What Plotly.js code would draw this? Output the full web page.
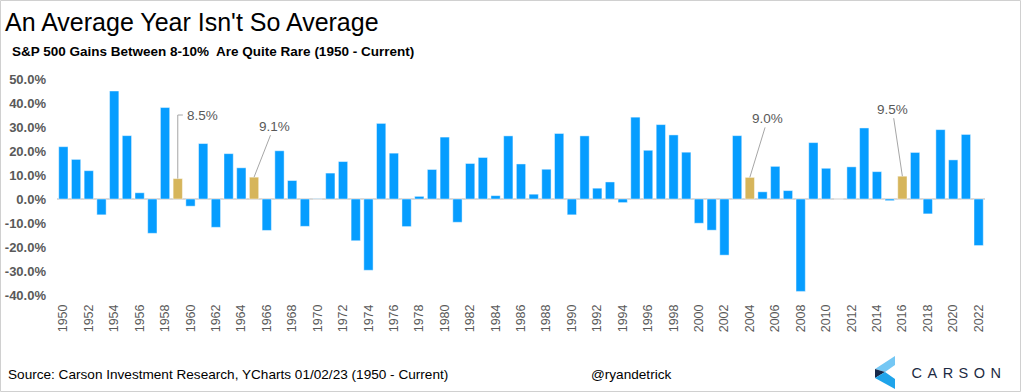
<!DOCTYPE html>
<html>
<head>
<meta charset="utf-8">
<script src="https://cdn.plot.ly/plotly-3.0.1.min.js"></script>
<style>
  html, body { margin: 0; padding: 0; background: #ffffff; }
  #chart { width: 1021px; height: 392px; }
</style>
</head>
<body>
<div id="chart"></div>
<script>
// ---- Data (S&P 500 calendar-year price returns, %) ----
const years = [1950,1951,1952,1953,1954,1955,1956,1957,1958,1959,
               1960,1961,1962,1963,1964,1965,1966,1967,1968,1969,
               1970,1971,1972,1973,1974,1975,1976,1977,1978,1979,
               1980,1981,1982,1983,1984,1985,1986,1987,1988,1989,
               1990,1991,1992,1993,1994,1995,1996,1997,1998,1999,
               2000,2001,2002,2003,2004,2005,2006,2007,2008,2009,
               2010,2011,2012,2013,2014,2015,2016,2017,2018,2019,
               2020,2021,2022];
const returnsPct = [21.8,16.5,11.8,-6.6,45.0,26.4,2.6,-14.3,38.1,8.5,
                    -3.0,23.1,-11.8,18.9,13.0,9.1,-13.1,20.1,7.7,-11.4,
                    0.1,10.8,15.6,-17.4,-29.7,31.5,19.1,-11.5,1.1,12.3,
                    25.8,-9.7,14.8,17.3,1.4,26.3,14.6,2.0,12.4,27.3,
                    -6.6,26.3,4.5,7.1,-1.5,34.1,20.3,31.0,26.7,19.5,
                    -10.1,-13.0,-23.4,26.4,9.0,3.0,13.6,3.5,-38.5,23.5,
                    12.8,0.0,13.4,29.6,11.4,-0.7,9.5,19.4,-6.2,28.9,
                    16.3,26.9,-19.4];
const highlightYears = [1959, 1965, 2004, 2016];
const highlightLabels = ["8.5%", "9.1%", "9.0%", "9.5%"];
const yTickVals = [50,40,30,20,10,0,-10,-20,-30,-40];
const yTickText = ["50.0%","40.0%","30.0%","20.0%","10.0%","0.0%","-10.0%","-20.0%","-30.0%","-40.0%"];
const xTickVals = years.filter(y => y % 2 === 0);

const titleText = "An Average Year Isn't So Average";
const subtitleText = "S&P 500 Gains Between 8-10%  Are Quite Rare (1950 - Current)";
const sourceText = "Source: Carson Investment Research, YCharts 01/02/23 (1950 - Current)";
const handleText = "@ryandetrick";
const brandText = "CARSON";

// ---- Styling ----
const W = 1021, H = 392;
const M = {l: 57, r: 36, t: 79, b: 97};
const PW = W - M.l - M.r, PH = H - M.t - M.b;
const px = x => (x - M.l) / PW;          // pixel -> paper x
const py = y => (H - M.b - y) / PH;      // pixel -> paper y
const FONT = "Liberation Sans, Arial, sans-serif";
const BLUE = "#069DFF", GOLD = "#D6B55B", GRAY = "#595959";

const colors = years.map(y => highlightYears.includes(y) ? GOLD : BLUE);

const trace = {
  type: "bar",
  x: years,
  y: returnsPct,
  marker: { color: colors, line: { color: "rgba(255,255,255,0.45)", width: 1 } },
  hoverinfo: "x+y"
};

// annotation offsets (pixels) for highlight labels
const labelOffsets = {1965: [20, -51], 2004: [18, -59], 2016: [-10, -67]};
const annotations = [];
const shapes = [];
highlightYears.forEach((yr, i) => {
  const v = returnsPct[years.indexOf(yr)];
  if (labelOffsets[yr]) {
    annotations.push({
      x: yr, y: v, xref: "x", yref: "y",
      text: highlightLabels[i], showarrow: true, arrowhead: 0, arrowwidth: 1,
      arrowcolor: "#a6a6a6", ax: labelOffsets[yr][0], ay: labelOffsets[yr][1],
      standoff: 0, font: { family: FONT, size: 13.5, color: GRAY }
    });
  } else {
    // elbow leader line for first label
    const topY = 35;
    shapes.push({
      type: "path", xref: "x", yref: "y",
      path: `M ${yr} ${v} L ${yr} ${topY} L ${yr + 0.4} ${topY}`,
      line: { color: "#a6a6a6", width: 1 }
    });
    annotations.push({
      x: yr + 0.6, y: topY, xref: "x", yref: "y", xanchor: "left", yanchor: "middle",
      text: highlightLabels[i], showarrow: false,
      font: { family: FONT, size: 13.5, color: GRAY }
    });
  }
});

// titles and footer
annotations.push(
  { xref: "paper", yref: "paper", x: px(3), y: py(22), xanchor: "left", yanchor: "middle",
    text: titleText, showarrow: false, font: { family: FONT, size: 25, color: "#000000" } },
  { xref: "paper", yref: "paper", x: px(10), y: py(51), xanchor: "left", yanchor: "middle",
    text: "<b>" + subtitleText + "</b>", showarrow: false, font: { family: FONT, size: 13.5, color: "#000000" } },
  { xref: "paper", yref: "paper", x: px(6), y: py(374), xanchor: "left", yanchor: "middle",
    text: sourceText, showarrow: false, font: { family: FONT, size: 13.6, color: "#000000" } },
  { xref: "paper", yref: "paper", x: px(631), y: py(374), xanchor: "center", yanchor: "middle",
    text: handleText, showarrow: false, font: { family: FONT, size: 13.6, color: "#000000" } },
  { xref: "paper", yref: "paper", x: px(926), y: py(373), xanchor: "left", yanchor: "middle",
    text: brandText, showarrow: false, font: { family: FONT, size: 14.5, color: "#1c2a43" } }
);

// logo chevron + border
const poly = pts => "M " + pts.map(p => px(p[0]) + " " + py(p[1])).join(" L ") + " Z";
shapes.push(
  { type: "path", xref: "paper", yref: "paper", path: poly([[895,356],[895,365],[885,372],[875,369]]),
    fillcolor: "#74C7F4", line: { width: 0 } },
  { type: "path", xref: "paper", yref: "paper", path: poly([[875,369],[885,372],[875,378]]),
    fillcolor: "#17294A", line: { width: 0 } },
  { type: "path", xref: "paper", yref: "paper", path: poly([[875,378],[885,372],[895,379],[895,389]]),
    fillcolor: "#1FA4EA", line: { width: 0 } },
  { type: "rect", xref: "paper", yref: "paper", x0: px(0.5), x1: px(W - 0.5), y0: py(0.5), y1: py(H - 0.5),
    line: { color: "#d0d0d0", width: 1 }, fillcolor: "rgba(0,0,0,0)" }
);

const layout = {
  width: W, height: H,
  margin: M,
  paper_bgcolor: "#ffffff", plot_bgcolor: "#ffffff",
  showlegend: false,
  bargap: 0.27,
  font: { family: FONT, color: GRAY },
  xaxis: {
    range: [years[0] - 0.5, years[years.length - 1] + 0.5],
    tickmode: "array", tickvals: xTickVals, ticktext: xTickVals.map(String),
    tickangle: -90, ticks: "", showgrid: false, zeroline: false, showline: false,
    tickfont: { family: FONT, size: 12.5, color: GRAY }, ticklabelstandoff: 6
  },
  yaxis: {
    range: [-40, 50],
    tickmode: "array", tickvals: yTickVals, ticktext: yTickText.map(t => "<b>" + t + "</b>"),
    ticks: "", showgrid: false, showline: false,
    zeroline: true, zerolinecolor: "#d9d9d9", zerolinewidth: 1.5,
    tickfont: { family: FONT, size: 13, color: GRAY }, ticklabelstandoff: 10
  },
  annotations: annotations,
  shapes: shapes
};

Plotly.newPlot("chart", [trace], layout, { displayModeBar: false, staticPlot: true }).then(() => {
  document.querySelectorAll("#chart .annotation-text").forEach(el => {
    if (el.textContent === brandText) el.style.letterSpacing = "5.5px";
  });
});
</script>
</body>
</html>
